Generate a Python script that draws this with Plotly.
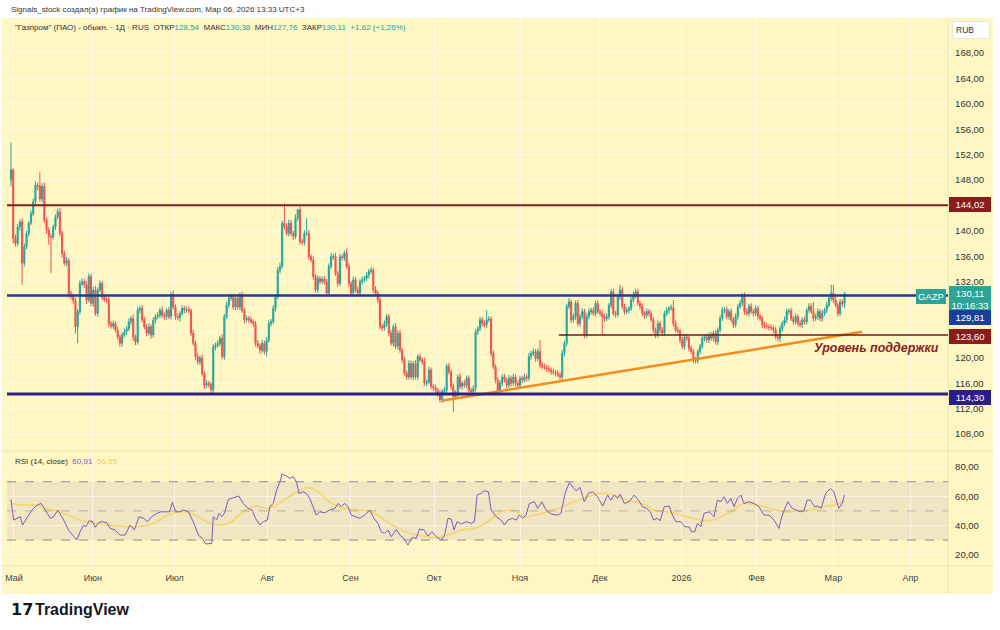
import plotly.graph_objects as go

# ---------------- data ----------------
close = [
149.6, 138.8, 138.0, 140.6, 141.4, 134.9, 137.5, 139.6, 141.2, 142.7,
144.6, 147.2, 147.0, 145.0, 147.0, 141.7, 140.1, 139.1, 139.0, 140.6,
142.2, 143.0, 139.6, 136.4, 134.9, 135.3, 130.1, 129.6, 129.0, 124.9,
127.3, 131.7, 132.0, 131.5, 129.1, 132.8, 128.6, 130.7, 127.0, 130.7,
131.7, 129.6, 129.2, 129.1, 125.4, 125.0, 125.4, 124.4, 123.3, 122.3,
123.6, 124.1, 124.6, 125.7, 126.2, 123.3, 122.5, 127.5, 127.8, 126.0,
124.9, 123.9, 124.9, 123.6, 125.9, 126.5, 126.7, 127.5, 126.7, 126.5,
127.5, 126.5, 130.0, 128.0, 126.5, 126.3, 127.0, 127.8, 127.5, 127.6,
127.4, 123.9, 122.3, 120.2, 119.4, 120.0, 117.5, 115.7, 116.0, 115.8,
115.0, 121.7, 122.0, 122.3, 123.1, 120.2, 126.5, 128.3, 129.4, 129.6,
128.0, 129.4, 128.0, 129.9, 127.5, 126.0, 126.2, 126.0, 125.7, 125.4,
122.3, 121.9, 121.2, 122.3, 121.0, 122.8, 125.4, 125.7, 127.8, 129.6,
133.8, 134.4, 141.2, 140.7, 139.6, 141.2, 139.6, 139.1, 142.0, 143.3,
138.3, 138.2, 139.6, 139.6, 135.9, 135.4, 132.8, 130.7, 132.5, 132.0,
132.4, 132.0, 130.2, 134.4, 135.9, 136.0, 133.3, 131.7, 135.9, 135.8,
136.5, 134.4, 131.7, 130.2, 132.3, 130.7, 130.2, 132.0, 132.3, 132.5,
133.0, 133.6, 133.8, 130.7, 130.2, 129.1, 124.9, 124.7, 125.4, 126.5,
123.9, 122.3, 124.9, 121.8, 123.9, 121.2, 119.7, 117.6, 117.0, 119.1,
117.0, 119.1, 117.0, 120.2, 119.7, 119.4, 116.0, 116.2, 118.1, 115.5,
115.3, 114.9, 114.4, 113.4, 114.7, 114.9, 118.7, 117.8, 115.5, 113.9,
114.4, 117.0, 115.5, 116.0, 115.7, 116.8, 114.9, 114.7, 115.2, 124.1,
124.6, 126.0, 125.4, 125.2, 126.0, 126.1, 120.7, 118.6, 116.5, 114.7,
116.0, 117.0, 116.5, 115.7, 116.8, 116.0, 117.0, 116.0, 115.7, 116.8,
116.5, 117.0, 116.8, 120.2, 120.7, 121.0, 119.9, 121.0, 118.9, 118.6,
118.5, 118.3, 118.1, 117.8, 117.7, 117.6, 117.3, 117.0, 120.7, 122.3,
128.1, 128.8, 126.0, 126.5, 128.6, 125.4, 126.5, 127.3, 123.6, 126.5,
127.3, 127.5, 127.0, 128.6, 127.3, 127.0, 126.5, 126.2, 126.5, 128.3,
130.4, 127.0, 126.8, 129.6, 130.7, 128.1, 127.3, 127.5, 127.8, 129.1,
129.9, 130.4, 128.6, 128.1, 127.0, 126.7, 127.3, 127.0, 126.0, 124.4,
123.6, 125.4, 124.4, 123.9, 127.0, 127.5, 127.8, 127.9, 125.4, 124.4,
124.2, 122.8, 121.8, 123.3, 123.1, 121.5, 121.0, 119.7, 119.6, 121.0,
121.8, 123.1, 123.3, 122.8, 123.6, 123.1, 123.9, 122.5, 124.4, 126.2,
127.5, 127.6, 126.5, 127.3, 126.0, 125.2, 126.5, 128.1, 128.6, 129.9,
127.3, 127.0, 128.1, 127.3, 127.0, 127.8, 126.5, 126.2, 125.2, 125.0,
124.9, 124.8, 124.7, 124.4, 123.3, 123.1, 124.6, 125.4, 126.0, 127.3,
127.4, 126.2, 125.7, 126.5, 125.4, 125.2, 126.0, 125.7, 127.5, 128.1,
127.3, 126.2, 126.5, 127.3, 126.2, 127.0, 127.5, 128.3, 129.4, 130.2,
129.1, 128.3, 127.0, 128.8, 128.54, 130.11,
]
first_open = 148.0

wick_up = [
4.3,0.2,0.6,0.5,0.4,0.6,0.5,0.4,0.3,0.5,
0.5,0.6,0.4,2.3,0.5,0.6,0.4,0.5,0.5,0.4,
0.4,0.5,0.6,0.4,0.5,0.6,0.4,0.5,0.4,0.5,
0.4,0.5,0.5,0.4,0.6,0.5,0.4,0.5,0.6,0.4,
0.5,0.4,0.4,0.5,0.6,0.4,0.5,0.4,0.5,0.4,
0.4,0.5,0.4,0.5,0.4,0.6,0.4,0.5,0.4,0.5,
0.5,0.4,0.6,0.4,0.5,0.4,0.5,0.4,0.6,0.4,
0.4,0.5,0.4,0.6,0.4,0.5,0.4,0.5,0.4,0.5,
0.5,0.4,0.5,0.4,0.6,0.4,0.5,0.4,0.5,0.4,
0.4,0.5,0.4,0.5,0.4,0.6,0.4,0.5,0.4,0.5,
0.5,0.4,0.6,0.4,0.5,0.4,0.5,0.4,0.5,0.4,
0.4,0.5,0.4,0.5,0.4,0.5,0.6,0.4,0.5,0.4,
0.5,0.6,0.4,3.1,0.5,0.6,0.5,0.4,0.6,0.2,
0.5,0.4,0.5,2.4,0.5,0.4,0.6,0.4,0.5,0.4,
0.4,0.5,0.4,0.5,0.6,0.4,0.5,0.4,0.5,0.4,
0.4,0.7,0.5,0.4,0.5,0.4,0.5,0.4,0.5,0.4,
0.5,0.4,0.5,0.4,0.6,0.4,0.5,0.4,0.5,0.4,
0.4,0.5,0.4,0.6,0.4,0.5,0.4,0.5,0.4,0.5,
0.5,0.4,0.5,0.4,0.5,0.4,0.6,0.4,0.5,0.4,
0.4,0.5,0.4,0.5,0.4,0.5,0.4,0.5,0.4,0.5,
0.5,0.4,0.6,0.4,0.5,0.4,0.5,0.4,0.5,0.4,
0.4,0.5,0.4,0.5,1.5,0.5,0.4,0.5,0.4,0.5,
0.5,0.4,0.5,0.4,0.5,0.4,0.5,0.4,0.5,0.4,
0.4,0.5,0.4,0.6,0.4,0.5,0.4,0.5,1.8,0.5,
0.5,0.4,0.5,0.4,0.5,0.4,0.5,0.4,0.6,0.4,
0.4,0.6,0.4,0.5,0.4,0.5,0.4,0.5,0.4,0.5,
0.5,0.4,0.5,0.4,0.5,0.4,0.5,0.4,0.5,0.4,
0.4,0.5,0.4,0.5,0.8,0.5,0.4,0.5,0.4,0.5,
0.5,0.5,0.5,0.4,0.5,0.4,0.5,0.4,0.5,0.4,
0.4,0.5,0.4,0.5,0.4,0.5,0.4,0.5,1.2,0.5,
0.5,0.4,0.5,0.4,0.5,0.4,0.5,0.4,0.5,0.4,
0.4,0.5,0.4,0.5,0.4,0.5,0.4,0.5,0.4,0.5,
0.5,0.4,0.5,0.4,0.5,0.4,0.5,0.4,0.5,0.3,
0.4,0.5,0.4,0.5,0.4,0.5,0.4,0.5,0.4,0.5,
0.5,0.4,0.5,0.4,0.5,0.4,0.5,0.4,0.5,0.4,
0.4,0.5,0.4,0.5,0.4,0.5,0.4,0.5,0.4,0.5,
0.5,1.5,0.4,0.5,0.4,0.5,0.4,0.5,0.4,1.3,
1.3,0.5,0.4,0.5,0.4,0.27,
]
wick_dn = [
1.0,0.8,0.5,0.4,0.6,3.4,0.5,0.4,0.5,0.3,
0.4,0.5,0.6,0.4,0.5,0.5,0.6,1.3,5.6,0.4,
0.5,0.4,0.5,0.6,0.4,0.5,0.6,0.4,0.5,1.1,
2.6,0.5,0.4,0.5,0.6,0.4,0.5,0.6,0.4,0.5,
0.4,0.5,0.4,0.5,0.6,0.4,0.5,0.4,0.5,0.6,
0.5,0.4,0.5,0.4,0.5,0.6,0.5,0.4,0.5,0.4,
0.4,0.5,0.4,0.6,0.4,0.5,0.4,0.5,0.4,0.5,
0.5,0.4,0.5,0.4,0.5,0.4,0.6,0.4,0.5,0.4,
0.4,0.5,0.4,0.5,0.4,0.5,0.4,0.6,0.4,0.5,
0.6,0.4,0.5,0.4,0.5,0.4,0.5,0.4,0.5,0.4,
0.4,0.5,0.4,0.5,0.4,0.6,0.4,0.5,0.4,0.5,
0.5,0.4,0.5,0.4,0.5,0.8,0.4,0.5,0.4,0.5,
0.4,0.5,0.4,0.5,0.4,0.5,0.4,0.6,0.4,0.5,
0.5,0.4,0.5,0.4,0.5,0.4,0.5,0.4,0.5,0.4,
0.4,0.5,0.4,0.5,0.4,0.5,0.4,0.5,0.4,0.5,
0.5,0.4,0.5,0.4,0.5,0.4,0.5,0.4,0.5,0.4,
0.4,0.5,0.4,0.5,0.4,0.5,0.4,0.5,0.4,0.5,
0.5,0.4,0.5,0.4,0.5,0.4,0.5,0.4,0.5,0.4,
0.4,0.5,0.4,0.5,0.4,0.5,0.4,0.5,0.4,0.5,
0.5,0.4,0.5,0.4,0.5,0.4,0.5,0.4,0.5,2.4,
0.4,0.5,0.4,0.5,0.4,0.5,0.4,0.5,0.4,0.5,
0.5,0.4,0.5,0.4,0.5,0.4,0.5,0.4,0.5,0.4,
0.4,0.5,0.4,0.5,0.4,0.5,0.4,0.5,0.4,0.5,
0.5,0.4,0.5,0.4,0.5,0.4,0.5,0.4,0.5,0.4,
0.4,0.5,0.4,0.5,0.4,0.5,0.4,0.5,0.4,0.5,
0.5,0.4,0.5,0.4,0.5,0.4,0.5,0.4,0.5,0.4,
0.4,0.5,0.4,0.5,0.4,0.5,2.9,0.5,0.4,0.5,
0.5,0.4,0.5,0.4,0.5,0.4,0.5,0.4,0.5,0.4,
0.4,0.5,0.4,0.5,0.4,0.5,0.4,0.5,0.4,0.5,
0.5,0.4,0.5,0.4,0.5,0.4,0.5,0.4,0.5,0.4,
0.4,0.5,0.4,0.5,0.4,0.5,0.4,0.5,0.5,0.5,
0.5,0.4,0.5,0.4,0.5,0.4,0.5,0.4,0.5,0.4,
0.4,0.5,0.4,0.5,0.4,0.5,0.4,0.5,0.4,0.5,
0.5,0.4,0.5,0.4,0.5,0.4,0.5,0.4,0.5,0.4,
0.4,0.5,0.4,0.5,0.4,0.5,0.6,0.5,0.4,0.5,
0.5,0.4,0.5,0.4,0.5,0.4,0.5,0.4,0.5,0.4,
0.4,0.5,0.4,0.5,0.4,0.5,0.4,0.5,0.4,0.5,
0.5,0.4,0.5,0.4,0.5,0.78,
]

# RSI(14) readings (bar index, value) and its moving average
rsi_bar = [0,1.2,2.7,4.2,5.2,7.2,9.4,11.7,13.6,15.4,
17.7,19.2,21.1,23.7,25.9,27.7,29.6,31.1,32.6,33.7,
35.2,36.7,37.9,39.4,40.9,43.1,44.6,46.9,49.1,51.3,
53.6,55.5,57.6,59.6,61.5,63.3,65.6,67.5,70.1,71.3,
72.6,74.1,76,77.5,79.8,82,84.3,86.1,87.6,89.1,
90.3,91,92.5,93.6,94.8,96,97.8,100,102.5,104.5,
106.7,108.5,110,112,113.5,115.3,116.5,118,119.5,121,
122,124,125.4,127,128.4,129.6,131.4,132.9,134.4,135.9,
137.4,138.9,141.2,143.4,145.7,147.2,148.7,150.1,151.6,153.1,
154.9,156.9,159.1,161.4,163.3,165.1,166.6,168.1,169.6,171.1,
173.4,174.9,176.8,178.6,180.4,182.3,183.8,185.8,187.6,189.4,
191.3,193.6,195.1,196.6,198.1,199.3,200.7,202.5,204.8,207,
208.5,209.7,211.5,212.7,214.8,216,218.3,220.5,
222,223.5,225.7,227.2,228.7,230.2,231.7,233.2,235.5,237,
238.8,240.7,243,246,247.4,249.4,251.2,252.7,254.2,256,
257.9,259.7,261.7,263.9,266.2,268.4,269.9,271.4,272.9,274.1,
275.9,278.1,280.4,282.3,284.1,285.9,287.6,289.1,290.6,292.1,
293.9,296.1,297.6,299.1,301.3,303.1,305.1,306.1,307.6,308.8,
310.3,311.8,314.1,316.3,317.8,319.3,320.8,322.3,323.8,325.3,
326.8,328.3,329.8,332,334.3,336.5,338.8,341,343.3,345.5,
347,348.5,349.5,351.5,353.7,355.2,356.7,358.2,359.7,361.5,
363,364.5,366.5,368.7,370.2,371.4,372.4,373.9,375]
rsi_val = [57.9,43.7,44.9,46,40.3,44.9,50.6,54,55.1,50.6,
44.9,46,50.6,43.7,36.9,33.4,30,35.7,40.3,39.1,
43.3,42.6,38.7,41.9,42.6,41.9,38,36.9,33.4,33.4,
40.3,36.9,46,44.9,42.6,46,48.3,49.4,49.4,49.4,
55.8,49.4,49.4,50.6,49.4,42.6,33.4,31.1,27.3,27.7,
27.7,46,43.7,48.3,46,48.3,57.9,59,60.2,55.1,
51.7,50.6,44.9,40.3,42.6,43.7,52.9,55.1,64.3,70,
75.3,73.9,72.3,73.4,70,62,63.1,62,58.6,52.9,
47.1,49.4,48.7,50.6,51.7,55.1,52.9,55.1,52.9,47.1,
46,44.9,47.1,50.6,44.9,41.4,35.7,34.6,36.9,32.3,
37.3,33.4,31.1,26.6,31.8,31.1,37.5,36.9,32.7,35.7,
32.3,30,33.4,44.9,44.3,36.9,42.6,41,42.6,41.4,
42.6,60.9,62,63.8,63.1,50.6,46,43.7,
40.3,43.7,44.9,43.7,47.1,44.9,47.1,55.1,56.3,51.7,
56.3,50.6,47.8,47.1,48.3,62.5,69.5,66.6,63.8,66.1,
56.3,62,63.1,59.7,53.3,60.9,57.4,60.9,58.6,61.5,
55.1,56.3,60.9,57.4,52.9,51.7,49.4,43.7,44.9,43.3,
52.9,53.3,47.1,42.6,42.6,39.1,39.1,35.7,35.7,41.4,
39.1,48.3,49.4,46,57.4,56.3,59.7,55.1,58.6,52.9,
58.6,60.9,55.1,56.3,55.1,52.9,47.1,47.1,43.7,38,
47.1,52.9,56.3,51.7,50.6,49.4,50.1,57.4,57.4,52.9,
53.3,51.7,62,65.4,63.1,57.4,51.7,55.1,60.91]
ma_bar = [0,4.9,10.9,15.4,21.4,27.4,33.4,40.9,48.4,55.8,
63.3,70.8,78.3,84.3,90.3,97.8,103.7,109.7,115.7,121.7,
127.7,133.7,138.2,144.2,150.1,156.1,162.1,168.1,175.6,183.1,
190.6,196.6,202.5,208.5,214.5,220.5,226.5,231,235.5,241.5,
247.4,253.4,259.4,265.4,271.4,277.4,283.4,289.4,295.4,301.3,
307.3,313.3,317.8,323.8,329.8,335.8,341.8,347.7,353.7,359.7,
365.7,370.2,375]
ma_val = [55.1,54,54,51.7,49.4,46,42.6,41,39.6,39.1,
41,47.1,49.4,46,41,41.4,48.3,53.3,51.7,56.3,
62,65.9,63.1,55.1,51.7,50.6,49.4,43.7,36.9,33.4,
31.8,33.4,36.9,38,42.6,49.4,50.1,46,47.1,49.4,
52.4,56.3,59.7,62,60.9,57.4,55.1,50.6,49.4,47.1,
44.9,43.3,44.9,49.4,55.1,54,51.7,49.4,50,50.6,
52.9,54,56.55]

month_labels = ["Май", "Июн", "Июл", "Авг", "Сен", "Окт", "Ноя", "Дек", "2026", "Фев", "Мар", "Апр"]
month_bars = [1.35, 36.8, 73.6, 115.4, 152.7, 190.4, 229.0, 264.9, 301.7, 335.4, 370.0, 404.6]

price_ticks = [108, 112, 116, 120, 124, 128, 132, 136, 140, 144, 148, 152, 156, 160, 164, 168]
price_hidden = [124, 128, 144]
rsi_ticks = [20, 40, 60, 80]

level_resist = 144.02
level_mid = 129.81
level_support = 123.60
level_low = 114.30
support_from_bar = 246.5
trend_bars = [194.3, 382.9]
trend_prices = [113.3, 124.1]

last_price = 130.11

assert len(close) == len(wick_up) == len(wick_dn)
assert len(rsi_bar) == len(rsi_val) and len(ma_bar) == len(ma_val)

# ---------------- derived OHLC ----------------
opens = [first_open] + close[:-1]
highs = [max(o, c) + u for o, c, u in zip(opens, close, wick_up)]
lows = [min(o, c) - d for o, c, d in zip(opens, close, wick_dn)]
bars = list(range(len(close)))

def fmt(v):
    return f"{v:.2f}".replace(".", ",")

# ---------------- layout helpers ----------------
W, H = 1000, 630
def PX(p): return p / W
def PY(p): return 1 - p / H

X_RANGE = [-1.8, 421.6]
FONT = "Liberation Sans"
BG = "#FEF7C4"
GRID = "rgba(255,255,255,0.55)"
GREEN = "#26A69A"
RED = "#EF5350"

fig = go.Figure()

fig.add_trace(go.Candlestick(
    x=bars, open=opens, high=highs, low=lows, close=close,
    increasing=dict(line=dict(color=GREEN, width=1), fillcolor=GREEN),
    decreasing=dict(line=dict(color=RED, width=1), fillcolor=RED),
    whiskerwidth=0, xaxis="x", yaxis="y", hoverinfo="skip", showlegend=False))

fig.add_trace(go.Scatter(x=trend_bars, y=trend_prices, mode="lines",
    line=dict(color="#F28C1E", width=2.5), xaxis="x", yaxis="y",
    hoverinfo="skip", showlegend=False))

# RSI lines
fig.add_trace(go.Scatter(x=ma_bar, y=ma_val, mode="lines", line_shape="spline",
    line=dict(color="#F3D772", width=1.8), xaxis="x2", yaxis="y2",
    hoverinfo="skip", showlegend=False))
fig.add_trace(go.Scatter(x=rsi_bar, y=rsi_val, mode="lines",
    line=dict(color="#7E57C2", width=1), xaxis="x2", yaxis="y2",
    hoverinfo="skip", showlegend=False))

shapes = []
# yellow canvas
shapes.append(dict(type="rect", xref="paper", yref="paper", x0=PX(0), x1=PX(993),
    y0=PY(594), y1=PY(18), fillcolor=BG, line=dict(width=0), layer="below"))
# pane separators
for yy in (451, 566):
    shapes.append(dict(type="line", xref="paper", yref="paper", x0=PX(0), x1=PX(993),
        y0=PY(yy), y1=PY(yy), line=dict(color="#EDE5B5", width=1), layer="below"))
shapes.append(dict(type="line", xref="paper", yref="paper", x0=PX(948), x1=PX(948),
    y0=PY(594), y1=PY(18), line=dict(color="#EDE5B5", width=1), layer="below"))
# RSI band
shapes.append(dict(type="rect", xref="x2", yref="y2", x0=X_RANGE[0], x1=X_RANGE[1],
    y0=30, y1=70, fillcolor="rgba(126,87,194,0.10)", line=dict(width=0), layer="below"))
for lv, dash, col in ((70, "dash", "#8A8C93"), (50, "dash", "rgba(138,140,147,0.6)"), (30, "dash", "#8A8C93")):
    shapes.append(dict(type="line", xref="x2", yref="y2", x0=X_RANGE[0], x1=X_RANGE[1],
        y0=lv, y1=lv, line=dict(color=col, width=1, dash=dash)))
# price levels
shapes.append(dict(type="line", xref="x", yref="y", x0=X_RANGE[0], x1=X_RANGE[1],
    y0=level_resist, y1=level_resist, line=dict(color="#7A1E1E", width=2)))
shapes.append(dict(type="line", xref="x", yref="y", x0=X_RANGE[0], x1=X_RANGE[1],
    y0=level_mid, y1=level_mid, line=dict(color="#1E3A9A", width=2.5)))
shapes.append(dict(type="line", xref="x", yref="y", x0=support_from_bar, x1=X_RANGE[1],
    y0=level_support, y1=level_support, line=dict(color="#6E1A1A", width=1.5)))
shapes.append(dict(type="line", xref="x", yref="y", x0=X_RANGE[0], x1=X_RANGE[1],
    y0=level_low, y1=level_low, line=dict(color="#2E1F8A", width=3)))

ann = []
def tag(text, ypx, bg, x=PX(949), xanchor="left", size=9.5, width=38):
    ann.append(dict(xref="paper", yref="paper", x=x, y=PY(ypx), xanchor=xanchor, yanchor="middle",
        text=text, showarrow=False, bgcolor=bg, bordercolor=bg, borderpad=1, width=width,
        align="center", font=dict(family=FONT, size=size, color="white")))

tag(fmt(level_resist), 205, "#8B1C1C")
tag(fmt(last_price) + "<br>10:16:33", 299, "#2BA596")
tag("GAZP", 296, "#2BA596", x=PX(946), xanchor="right", width=26)
tag(fmt(level_mid), 317, "#1B3FA0")
tag(fmt(level_support), 336, "#8B1C1C")
tag(fmt(level_low), 397, "#2E1B8E")

ann.append(dict(xref="paper", yref="paper", x=PX(952), y=PY(30), xanchor="left", yanchor="middle",
    text="RUB", showarrow=False, bgcolor="white", bordercolor="#E6E6E6", borderpad=3, width=30,
    align="left", font=dict(family=FONT, size=8.5, color="#333")))

ann.append(dict(xref="x", yref="y", x=389.3, y=121.6, xanchor="center", yanchor="middle",
    text="<b><i>Уровень поддержки</i></b>", showarrow=False,
    font=dict(family=FONT, size=12.5, color="#8B1E1E")))

ann.append(dict(xref="paper", yref="paper", x=PX(7), y=PY(10), xanchor="left", yanchor="middle",
    text="Signals_stock создал(а) график на TradingView.com, Мар 06, 2026 13:33 UTC+3",
    showarrow=False, font=dict(family=FONT, size=8, color="#333")))

g = "#22A68F"
hdr = ('"Газпром" (ПАО) - обыкн. · 1Д · RUS&nbsp;&nbsp;ОТКР<span style="color:%s">128,54</span>'
       '&nbsp;&nbsp;МАКС<span style="color:%s">130,38</span>&nbsp;&nbsp;МИН<span style="color:%s">127,76</span>'
       '&nbsp;&nbsp;ЗАКР<span style="color:%s">130,11</span>&nbsp;&nbsp;<span style="color:%s">+1,62 (+1,26%%)</span>') % (g, g, g, g, g)
ann.append(dict(xref="paper", yref="paper", x=PX(11), y=PY(28), xanchor="left", yanchor="middle",
    text=hdr, showarrow=False, font=dict(family=FONT, size=8, color="#333")))

ann.append(dict(xref="paper", yref="paper", x=PX(11), y=PY(462), xanchor="left", yanchor="middle",
    text='RSI (14, close)&nbsp;&nbsp;<span style="color:#7E57C2">60,91</span>&nbsp;&nbsp;<span style="color:#F0D060">56,55</span>',
    showarrow=False, font=dict(family=FONT, size=8, color="#333")))

ann.append(dict(xref="paper", yref="paper", x=PX(7), y=PY(609), xanchor="left", yanchor="middle",
    text="<b>17</b>", showarrow=False, font=dict(family="DejaVu Sans", size=16, color="#131722")))
ann.append(dict(xref="paper", yref="paper", x=PX(31), y=PY(609), xanchor="left", yanchor="middle",
    text="<b>TradingView</b>", showarrow=False, font=dict(family=FONT, size=16, color="#131722")))

price_text = ["" if t in price_hidden else fmt(t) for t in price_ticks]

fig.update_layout(
    width=W, height=H, margin=dict(l=0, r=0, t=0, b=0),
    paper_bgcolor="white", plot_bgcolor="rgba(0,0,0,0)",
    hovermode=False, showlegend=False, dragmode=False,
    shapes=shapes, annotations=ann,
    xaxis=dict(domain=[PX(5), PX(948)], range=X_RANGE, anchor="y",
               tickvals=month_bars, showticklabels=False, ticks="",
               showgrid=True, gridcolor=GRID, gridwidth=1, zeroline=False,
               rangeslider=dict(visible=False), showline=False),
    yaxis=dict(domain=[PY(450), PY(18)], range=[105.5, 173.5], side="right", anchor="x",
               tickvals=price_ticks, ticktext=price_text, ticks="",
               showgrid=True, gridcolor=GRID, zeroline=False, showline=False,
               ticklabelstandoff=6, tickfont=dict(family=FONT, size=9.5, color="#333")),
    xaxis2=dict(domain=[PX(5), PX(948)], range=X_RANGE, anchor="y2", matches="x",
                tickvals=month_bars, ticktext=month_labels, ticks="",
                showgrid=True, gridcolor=GRID, zeroline=False, showline=False,
                ticklabelstandoff=5, tickfont=dict(family=FONT, size=9, color="#444")),
    yaxis2=dict(domain=[PY(566), PY(452)], range=[12.2, 90.4], side="right", anchor="x2",
                tickvals=rsi_ticks, ticktext=[fmt(t) for t in rsi_ticks], ticks="",
                showgrid=True, gridcolor=GRID, zeroline=False, showline=False,
                ticklabelstandoff=6, tickfont=dict(family=FONT, size=9.5, color="#333")),
)

fig.write_html("out.html", config={"displayModeBar": False, "staticPlot": True})
